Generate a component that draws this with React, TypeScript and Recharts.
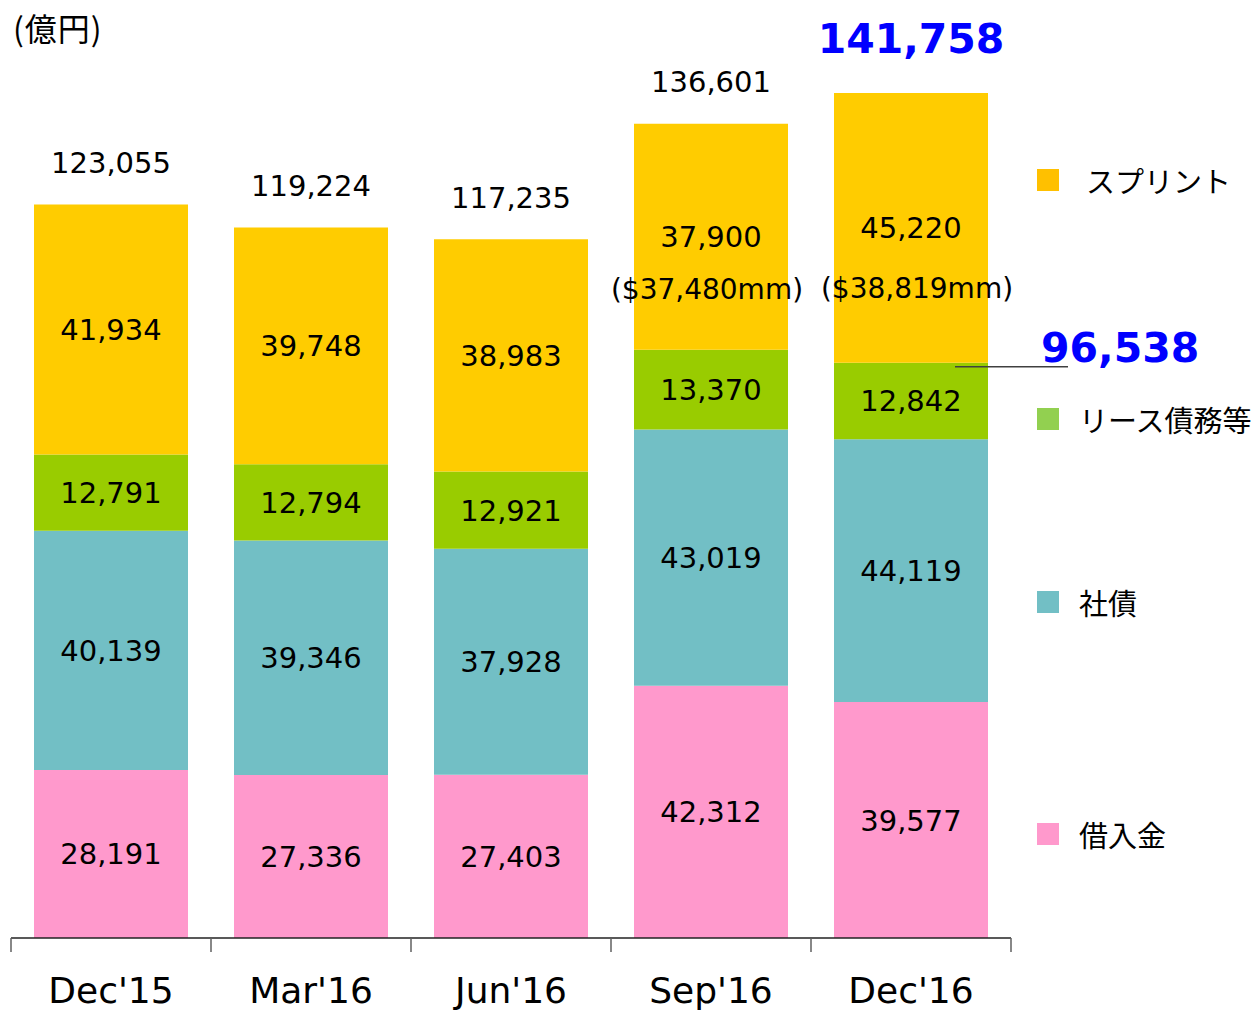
import React from 'react';
import { BarChart, Bar, XAxis, YAxis, LabelList } from 'recharts';

const categories = ["Dec'15", "Mar'16", "Jun'16", "Sep'16", "Dec'16"];
const loans = [28191, 27336, 27403, 42312, 39577];
const bonds = [40139, 39346, 37928, 43019, 44119];
const leases = [12791, 12794, 12921, 13370, 12842];
const sprint = [41934, 39748, 38983, 37900, 45220];
const totals = [123055, 119224, 117235, 136601, 141758];
const sprintUsd: (string | null)[] = [null, null, null, '($37,480mm)', '($38,819mm)'];

const seriesInfo = [
  { key: 'sprint', name: 'スプリント', color: '#FFCC00', legendColor: '#FFC000', legendY: 180, legendX: 1086 },
  { key: 'leases', name: 'リース債務等', color: '#99CC00', legendColor: '#92D050', legendY: 419, legendX: 1079 },
  { key: 'bonds', name: '社債', color: '#72BFC5', legendColor: '#72BFC5', legendY: 602, legendX: 1079 },
  { key: 'loans', name: '借入金', color: '#FF99CC', legendColor: '#FF99CC', legendY: 834, legendX: 1079 },
];

const data = categories.map((c, i) => ({
  name: c,
  loans: loans[i],
  bonds: bonds[i],
  leases: leases[i],
  sprint: sprint[i],
  total: totals[i],
}));

const NUM_FONT = "'DejaVu Sans', Verdana, sans-serif";
const JP_FONT = "'Noto Sans CJK JP', sans-serif";
const fmt = (v: number) => v.toLocaleString('en-US');

const USD_OFFSET: Record<number, { dx: number; dy: number }> = {
  3: { dx: -4, dy: 52 },
  4: { dx: 6, dy: 60 },
};

const CenterLabel = (props: any) => {
  const { x, y, width, height, value } = props;
  return (
    <text x={x + width / 2} y={y + height / 2} dy="0.36em" textAnchor="middle" fontSize={29} fontFamily={NUM_FONT} fill="#000">
      {fmt(value)}
    </text>
  );
};

const SprintLabel = (props: any) => {
  const { x, y, width, height, value, index } = props;
  const usd = sprintUsd[index];
  const cx = x + width / 2;
  const cy = y + height / 2;
  const off = USD_OFFSET[index] || { dx: 0, dy: 52 };
  return (
    <g>
      <text x={cx} y={cy} dy="0.36em" textAnchor="middle" fontSize={29} fontFamily={NUM_FONT} fill="#000">
        {fmt(value)}
      </text>
      {usd ? (
        <text x={cx + off.dx} y={cy + off.dy} dy="0.36em" textAnchor="middle" fontSize={28} fontFamily={NUM_FONT} fill="#000">
          {usd}
        </text>
      ) : null}
    </g>
  );
};

const TotalLabel = (props: any) => {
  const { x, y, width, value, index } = props;
  const cx = x + width / 2;
  if (index === categories.length - 1) {
    return (
      <text x={cx} y={y - 55} dy="0.36em" textAnchor="middle" fontSize={41} fontWeight="bold" fontFamily={NUM_FONT} fill="#0000FF">
        {fmt(value)}
      </text>
    );
  }
  return (
    <text x={cx} y={y - 42} dy="0.36em" textAnchor="middle" fontSize={29} fontFamily={NUM_FONT} fill="#000">
      {fmt(value)}
    </text>
  );
};

const LeaseLabel = (props: any) => {
  const { x, y, width, height, value, index } = props;
  const last = categories.length - 1;
  const subtotal = loans[last] + bonds[last] + leases[last];
  return (
    <g>
      <text x={x + width / 2} y={y + height / 2} dy="0.36em" textAnchor="middle" fontSize={29} fontFamily={NUM_FONT} fill="#000">
        {fmt(value)}
      </text>
      {index === last ? (
        <g>
          <line x1={x + 121} y1={y + 4} x2={x + width + 80} y2={y + 4} stroke="#404040" strokeWidth={1.5} />
          <text x={x + width + 53} y={y - 15} dy="0.36em" textAnchor="start" fontSize={41} fontWeight="bold" fontFamily={NUM_FONT} fill="#0000FF">
            {fmt(subtotal)}
          </text>
        </g>
      ) : null}
    </g>
  );
};

const HALF_BAND = 100;
const AxisTick = (props: any) => {
  const { x, y, payload, index } = props;
  return (
    <g>
      <line x1={x - HALF_BAND} y1={y} x2={x - HALF_BAND} y2={y + 14} stroke="#606060" strokeWidth={1.5} />
      {index === categories.length - 1 ? (
        <line x1={x + HALF_BAND} y1={y} x2={x + HALF_BAND} y2={y + 14} stroke="#606060" strokeWidth={1.5} />
      ) : null}
      <text x={x} y={y + 52} dy="0.36em" textAnchor="middle" fontSize={36} fontFamily={NUM_FONT} fill="#000">
        {payload.value}
      </text>
    </g>
  );
};

export default function App() {
  return (
    <div style={{ position: 'absolute', left: 0, top: 0, width: 1256, height: 1011, background: '#fff' }}>
      <BarChart
        width={1256}
        height={1011}
        data={data}
        margin={{ top: 44, right: 245, bottom: 0, left: 11 }}
        barSize={154}
      >
        <XAxis
          dataKey="name"
          height={73}
          tickLine={false}
          tickSize={0}
          tickMargin={0}
          axisLine={{ stroke: '#222', strokeWidth: 1.5 }}
          tick={<AxisTick />}
          interval={0}
        />
        <YAxis hide domain={[0, 150000]} />
        <Bar dataKey="loans" stackId="a" fill="#FF99CC" isAnimationActive={false}>
          <LabelList dataKey="loans" content={<CenterLabel />} />
        </Bar>
        <Bar dataKey="bonds" stackId="a" fill="#72BFC5" isAnimationActive={false}>
          <LabelList dataKey="bonds" content={<CenterLabel />} />
        </Bar>
        <Bar dataKey="leases" stackId="a" fill="#99CC00" isAnimationActive={false}>
          <LabelList dataKey="leases" content={<LeaseLabel />} />
        </Bar>
        <Bar dataKey="sprint" stackId="a" fill="#FFCC00" isAnimationActive={false}>
          <LabelList dataKey="sprint" content={<SprintLabel />} />
          <LabelList dataKey="total" content={<TotalLabel />} />
        </Bar>
      </BarChart>
      <div style={{ position: 'absolute', left: 13, top: 7, fontSize: 32, fontFamily: JP_FONT, color: '#000', lineHeight: '40px', letterSpacing: 1 }}>
        (億円)
      </div>
      {seriesInfo.map((s) => (
        <div key={s.key}>
          <div style={{ position: 'absolute', left: 1037, top: s.legendY - 11, width: 22, height: 22, background: s.legendColor }} />
          <div style={{ position: 'absolute', left: s.legendX, top: s.legendY - 20, fontSize: 29, fontFamily: JP_FONT, color: '#000', lineHeight: '40px', whiteSpace: 'nowrap' }}>
            {s.name}
          </div>
        </div>
      ))}
    </div>
  );
}
